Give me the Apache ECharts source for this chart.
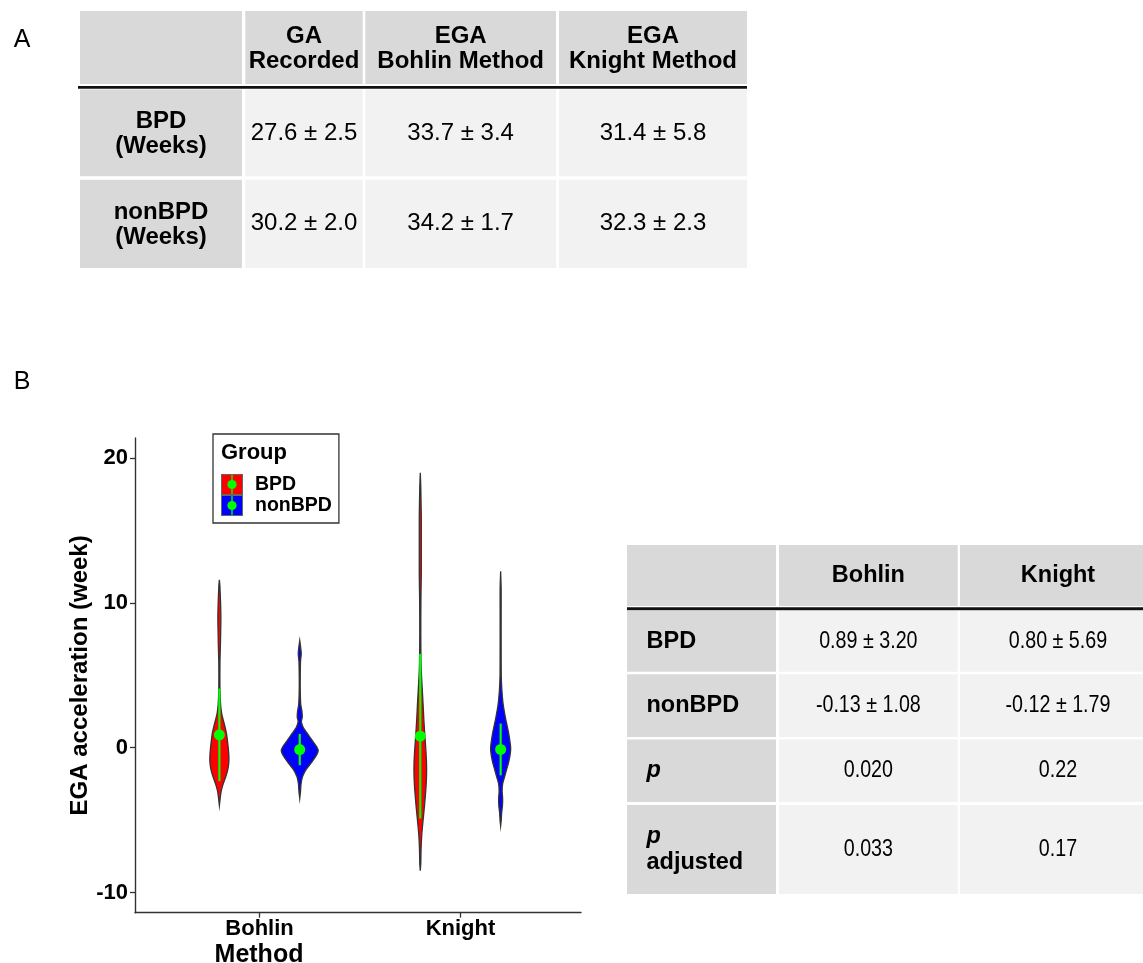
<!DOCTYPE html>
<html><head><meta charset="utf-8">
<script src="https://cdn.jsdelivr.net/npm/echarts@6/dist/echarts.min.js"></script>
<style>html,body{margin:0;padding:0;background:#fff}#c{width:1143px;height:963px}</style>
</head><body><div id="c"></div>
<script>
// ================= DATA =================
const methods = ['Bohlin', 'Knight'];
const groups = ['BPD', 'nonBPD'];
const groupColors = ['#ff0000', '#0000ff'];

// Panel A table
const tableAHeaders = ['GA\nRecorded', 'EGA\nBohlin Method', 'EGA\nKnight Method'];
const tableARowLabels = ['BPD\n(Weeks)', 'nonBPD\n(Weeks)'];
const tableAMeans = [[27.6, 33.7, 31.4], [30.2, 34.2, 32.3]];
const tableASDs = [[2.5, 3.4, 5.8], [2.0, 1.7, 2.3]];

// Panel B summary (mean +/- SD of EGA acceleration)
const accelMeanBPD = [0.89, 0.80];
const accelSdBPD = [3.20, 5.69];
const accelMeanNon = [-0.13, -0.12];
const accelSdNon = [1.08, 1.79];
const pValues = ['0.020', '0.22'];
const pAdjusted = ['0.033', '0.17'];
const yTickValues = [-10, 0, 10, 20];

// Violin outlines: [acceleration (week), half-width (x-axis units)]
const violinBohlinBPD = [[11.6,0],[11.2,0.0025],[10,0.006],[9,0.0075],[8,0.0065],[7,0.005],[6,0.003],[5,0.0025],[4,0.003],[3,0.006],[2.4,0.011],[2,0.0175],[1.5,0.027],[1,0.035],[0.5,0.040],[0,0.044],[-0.5,0.047],[-1,0.047],[-1.5,0.042],[-2,0.032],[-2.5,0.019],[-3,0.009],[-3.5,0.004],[-4,0]];
const violinKnightBPD = [[19,0],[18,0.0025],[16,0.005],[14,0.005],[12,0.005],[10,0.003],[8,0.0025],[6,0.0035],[5,0.006],[4,0.010],[3,0.014],[2,0.0175],[1,0.022],[0,0.027],[-1,0.031],[-2,0.031],[-3,0.027],[-4,0.021],[-5,0.014],[-6,0.0075],[-7,0.004],[-8,0.0025],[-8.5,0]];
const violinBohlinNon = [[7.4,0],[7,0.004],[6.5,0.0075],[6,0.004],[5,0.0025],[4,0.0025],[3,0.005],[2.5,0.011],[2.1,0.0125],[1.8,0.008],[1.4,0.0175],[1,0.037],[0.5,0.062],[0,0.087],[-0.2,0.092],[-0.5,0.084],[-1,0.060],[-1.5,0.032],[-2,0.014],[-2.5,0.0065],[-3,0.004],[-3.5,0]];
const violinKnightNon = [[12.2,0],[11,0.0025],[9,0.0025],[7,0.0025],[5,0.003],[4,0.006],[3,0.0125],[2,0.025],[1,0.040],[0,0.050],[-0.5,0.047],[-1,0.040],[-1.5,0.030],[-2,0.020],[-2.5,0.010],[-3,0.0075],[-3.5,0.010],[-4,0.009],[-4.5,0.005],[-5,0.003],[-5.4,0]];

// ================= CHART =================
const FONT = '"Liberation Sans", Arial, Helvetica, sans-serif';
const GREEN = '#00ff00';
const fmt1 = v => v.toFixed(1);
const fmt2 = v => v.toFixed(2);

function makeRenderer(profiles, offset, color) {
  return function (params, api) {
    const prof = profiles[params.dataIndex];
    const xc = api.value(0) + offset;
    const mean = api.value(1), sd = api.value(2);
    const right = prof.map(p => api.coord([xc + p[1], p[0]]));
    const left = prof.slice().reverse().map(p => api.coord([xc - p[1], p[0]]));
    const top = api.coord([xc, mean + sd]);
    const bot = api.coord([xc, mean - sd]);
    const mid = api.coord([xc, mean]);
    return {
      type: 'group',
      children: [
        { type: 'polygon', shape: { points: right.concat(left), smooth: 0.2 }, style: { fill: color, stroke: '#333', lineWidth: 1.3 } },
        { type: 'line', shape: { x1: top[0], y1: top[1], x2: bot[0], y2: bot[1] }, style: { stroke: GREEN, lineWidth: 2.2 } },
        { type: 'circle', shape: { cx: mid[0], cy: mid[1], r: 5.5 }, style: { fill: GREEN } }
      ]
    };
  };
}

function keyIcon(fill) {
  const s = '<svg xmlns="http://www.w3.org/2000/svg" width="22" height="21" viewBox="0 0 22 21">' +
    '<rect x="0.5" y="0.5" width="21" height="20" fill="' + fill + '" stroke="#666" stroke-width="1"/>' +
    '<line x1="11" y1="1" x2="11" y2="20" stroke="#00ff00" stroke-width="1.4"/>' +
    '<circle cx="11" cy="10.5" r="4.6" fill="#00ff00"/></svg>';
  return 'image://data:image/svg+xml;charset=utf-8,' + encodeURIComponent(s);
}

// ---- tables as graphic elements ----
const G = [];
function rect(x0, y0, x1, y1, fill) {
  G.push({ type: 'rect', silent: true, shape: { x: x0, y: y0, width: x1 - x0, height: y1 - y0 }, style: { fill: fill } });
}
function txt(x, y, str, style, scaleX) {
  G.push({ type: 'text', silent: true, z: 100, x: x, y: y, scaleX: scaleX || 1,
    style: Object.assign({ text: str, fill: '#000', fontFamily: FONT, fontSize: 24, align: 'center', verticalAlign: 'middle' }, style || {}) });
}
const DARK = '#d9d9d9', LIGHT = '#f2f2f2';

// Table A
const colA = [[80, 242], [245.3, 362.7], [365.3, 556], [559, 747]];
const rowA = [[11, 84], [89.5, 176.3], [179.7, 268]];
rowA.forEach((r, ri) => colA.forEach((c, ci) => rect(c[0], r[0], c[1], r[1], (ri === 0 || ci === 0) ? DARK : LIGHT)));
rect(78, 86, 747, 88.8, '#111');
const cx = c => (c[0] + c[1]) / 2;
const cy = r => (r[0] + r[1]) / 2;
tableAHeaders.forEach((h, i) => txt(cx(colA[i + 1]), cy(rowA[0]) + 1, h, { fontSize: 24, fontWeight: 'bold', lineHeight: 25 }));
tableARowLabels.forEach((l, i) => {
  txt(cx(colA[0]), cy(rowA[i + 1]) + 1, l, { fontSize: 24, fontWeight: 'bold', lineHeight: 25 });
  tableAMeans[i].forEach((m, j) => txt(cx(colA[j + 1]), cy(rowA[i + 1]), fmt1(m) + ' \u00b1 ' + fmt1(tableASDs[i][j]), { fontSize: 24 }));
});

// Table B
const colB = [[627, 776], [779, 957.7], [960, 1156]];
const rowB = [[545, 606], [611, 671.7], [674.3, 737], [739.5, 802], [805, 894]];
rowB.forEach((r, ri) => colB.forEach((c, ci) => rect(c[0], r[0], c[1], r[1], (ri === 0 || ci === 0) ? DARK : LIGHT)));
rect(627, 607.3, 1143, 610.3, '#111');
methods.forEach((m, i) => txt(cx(colB[i + 1]), cy(rowB[0]), m, { fontSize: 23.5, fontWeight: 'bold' }));
const NARROW = 0.82;
const rowBLabels = [
  { text: groups[0], style: { fontWeight: 'bold' } },
  { text: groups[1], style: { fontWeight: 'bold' } },
  { text: 'p', style: { fontWeight: 'bold', fontStyle: 'italic' } },
  { text: '{pi|p}\n{b|adjusted}', style: { lineHeight: 26, rich: { pi: { fontWeight: 'bold', fontStyle: 'italic', fontSize: 23.5, fontFamily: FONT, lineHeight: 26 }, b: { fontWeight: 'bold', fontSize: 23.5, fontFamily: FONT, lineHeight: 26 } } } }
];
rowBLabels.forEach((l, i) => txt(646.5, cy(rowB[i + 1]), l.text, Object.assign({ fontSize: 23.5, align: 'left' }, l.style)));
const rowBValues = [
  methods.map((m, j) => fmt2(accelMeanBPD[j]) + ' \u00b1 ' + fmt2(accelSdBPD[j])),
  methods.map((m, j) => fmt2(accelMeanNon[j]) + ' \u00b1 ' + fmt2(accelSdNon[j])),
  pValues,
  pAdjusted
];
rowBValues.forEach((vals, i) => vals.forEach((v, j) => txt(cx(colB[j + 1]), cy(rowB[i + 1]), v, { fontSize: 24 }, NARROW)));

// Panel labels and legend title
txt(22, 40, 'A', { fontSize: 25 });
txt(22, 382, 'B', { fontSize: 25 });
txt(221, 453, 'Group', { fontSize: 22, fontWeight: 'bold', align: 'left' });

const chart = echarts.init(document.getElementById('c'), null, { renderer: 'canvas' });
chart.setOption({
  animation: false,
  backgroundColor: '#fff',
  grid: { left: 135, right: 562, top: 438, bottom: 50.3, containLabel: false, outerBoundsMode: 'none' },
  xAxis: {
    type: 'value', min: 0.38, max: 2.6,
    name: 'Method', nameLocation: 'middle', nameGap: 30,
    nameTextStyle: { fontFamily: FONT, fontSize: 25, fontWeight: 'bold', color: '#000', padding: [0, 198, 0, 0] },
    axisLine: { show: true, onZero: false, lineStyle: { color: '#333', width: 1.4 } },
    axisTick: { show: true, customValues: [1, 2], length: 5, lineStyle: { color: '#333', width: 1.3 } },
    axisLabel: { customValues: [1, 2], formatter: v => methods[Math.round(v) - 1], fontFamily: FONT, fontSize: 22, fontWeight: 'bold', color: '#000', margin: 5 },
    splitLine: { show: false }
  },
  yAxis: {
    type: 'value', min: -11.4, max: 21.4,
    name: 'EGA acceleration (week)', nameLocation: 'middle', nameGap: 43, nameRotate: 90,
    nameTextStyle: { fontFamily: FONT, fontSize: 24, fontWeight: 'bold', color: '#000' },
    axisLine: { show: true, onZero: false, lineStyle: { color: '#333', width: 1.4 } },
    axisTick: { show: true, customValues: yTickValues, length: 5, lineStyle: { color: '#333', width: 1.3 } },
    axisLabel: { customValues: yTickValues, fontFamily: FONT, fontSize: 22, fontWeight: 'bold', color: '#000', margin: 7 },
    splitLine: { show: false }
  },
  legend: {
    orient: 'vertical', left: 213, top: 434,
    padding: [40, 7, 7, 8], itemGap: 0, itemWidth: 22, itemHeight: 21,
    borderColor: '#333', borderWidth: 1.3,
    textStyle: { fontFamily: FONT, fontSize: 19.5, fontWeight: 'bold', color: '#000', padding: [0, 0, 0, 7] },
    data: [{ name: groups[0], icon: keyIcon(groupColors[0]) }, { name: groups[1], icon: keyIcon(groupColors[1]) }]
  },
  graphic: G,
  series: [
    { type: 'custom', name: groups[0], coordinateSystem: 'cartesian2d', encode: { x: 0, y: 1 },
      renderItem: makeRenderer([violinBohlinBPD, violinKnightBPD], -0.2, groupColors[0]),
      data: methods.map((m, i) => [i + 1, accelMeanBPD[i], accelSdBPD[i]]) },
    { type: 'custom', name: groups[1], coordinateSystem: 'cartesian2d', encode: { x: 0, y: 1 },
      renderItem: makeRenderer([violinBohlinNon, violinKnightNon], 0.2, groupColors[1]),
      data: methods.map((m, i) => [i + 1, accelMeanNon[i], accelSdNon[i]]) }
  ]
});
</script></body></html>
